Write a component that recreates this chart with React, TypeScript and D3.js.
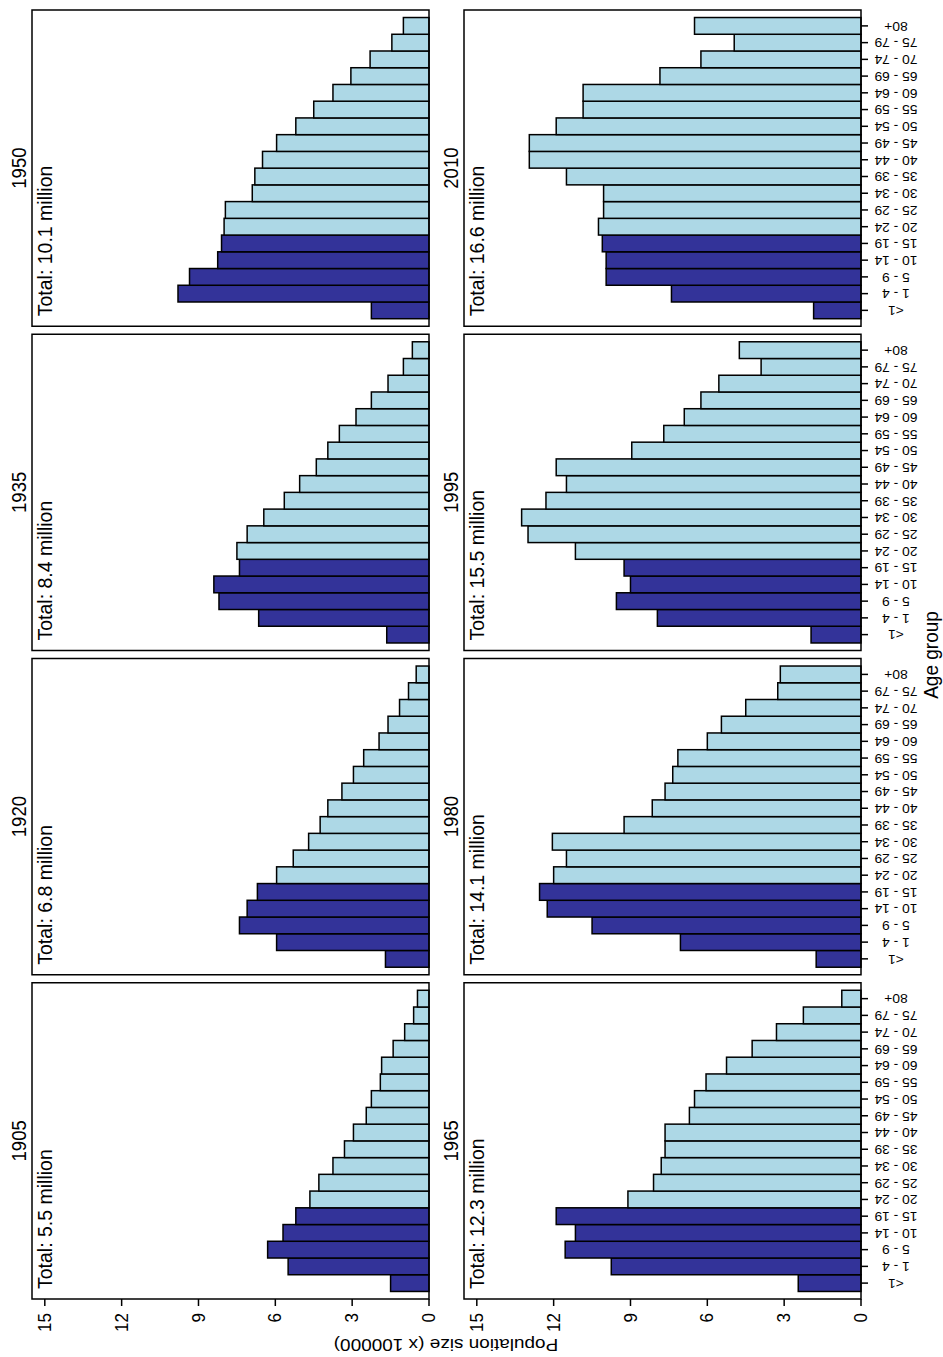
import React from "react";
import * as d3 from "d3";

const ageGroups = ["<1", "1 - 4", "5 - 9", "10 - 14", "15 - 19", "20 - 24", "25 - 29", "30 - 34", "35 - 39", "40 - 44", "45 - 49", "50 - 54", "55 - 59", "60 - 64", "65 - 69", "70 - 74", "75 - 79", "80+"];
const youngGroups = ["<1", "1 - 4", "5 - 9", "10 - 14", "15 - 19"];
const years = [1905, 1920, 1935, 1950, 1965, 1980, 1995, 2010];
const totals = ["5.5", "6.8", "8.4", "10.1", "12.3", "14.1", "15.5", "16.6"];
const valueTicks = [0, 3, 6, 9, 12, 15];

const pop1905 = [1.5, 5.5, 6.3, 5.7, 5.2, 4.65, 4.3, 3.75, 3.3, 2.95, 2.45, 2.25, 1.9, 1.85, 1.4, 0.95, 0.6, 0.45];
const pop1920 = [1.7, 5.95, 7.4, 7.1, 6.7, 5.95, 5.3, 4.7, 4.25, 3.95, 3.4, 2.95, 2.55, 1.95, 1.6, 1.15, 0.8, 0.5];
const pop1935 = [1.65, 6.65, 8.2, 8.4, 7.4, 7.5, 7.1, 6.45, 5.65, 5.05, 4.4, 3.95, 3.5, 2.85, 2.25, 1.6, 1.0, 0.65];
const pop1950 = [2.25, 9.8, 9.35, 8.25, 8.1, 8.0, 7.95, 6.9, 6.8, 6.5, 5.95, 5.2, 4.5, 3.75, 3.05, 2.3, 1.45, 1.0];
const pop1965 = [2.45, 9.75, 11.55, 11.15, 11.9, 9.1, 8.1, 7.8, 7.65, 7.65, 6.7, 6.5, 6.05, 5.25, 4.25, 3.3, 2.25, 0.75];
const pop1980 = [1.75, 7.05, 10.5, 12.25, 12.55, 12.0, 11.5, 12.05, 9.25, 8.15, 7.65, 7.35, 7.15, 6.0, 5.45, 4.5, 3.25, 3.15];
const pop1995 = [1.95, 7.95, 9.55, 9.0, 9.25, 11.15, 13.0, 13.25, 12.3, 11.5, 11.9, 8.95, 7.7, 6.9, 6.25, 5.55, 3.9, 4.75];
const pop2010 = [1.85, 7.4, 9.95, 9.95, 10.1, 10.25, 10.05, 10.05, 11.5, 12.95, 12.95, 11.9, 10.85, 10.85, 7.85, 6.25, 4.95, 6.5];
const series = [pop1905, pop1920, pop1935, pop1950, pop1965, pop1980, pop1995, pop2010];

const DARK = "#333399";
const LIGHT = "#ADD8E6";
const FONT = "'Liberation Sans', Arial, Helvetica, sans-serif";
const K = 1.05; // glyph stretch across the text direction
const KA = 1.15; // stretch for age labels / y title along text

// Original (landscape) figure size; rotated -90deg onto the portrait page
const OW = 1357;
const panelLeft = 58;
const panelW = 316.25;
const panelGap = 8;
const rows = [
  { top: 32, base: 429 },
  { top: 464, base: 861 },
];
const yMax = 15.5;

function Panel({ idx }: { idx: number }) {
  const row = Math.floor(idx / 4);
  const col = idx % 4;
  const x0 = panelLeft + col * (panelW + panelGap);
  const { top, base } = rows[row];
  const x = d3.scaleBand<string>().domain(ageGroups).range([x0, x0 + panelW]).paddingInner(0).paddingOuter(0.45);
  const y = d3.scaleLinear().domain([0, yMax]).range([base, top]);
  const data = series[idx];
  return (
    <g>
      {ageGroups.map((a, i) => (
        <rect
          key={a}
          x={x(a)}
          y={y(data[i])}
          width={x.bandwidth()}
          height={y(0) - y(data[i])}
          fill={youngGroups.includes(a) ? DARK : LIGHT}
          stroke="#000"
          strokeWidth={1.5}
        />
      ))}
      <rect x={x0} y={top} width={panelW} height={base - top} fill="none" stroke="#000" strokeWidth={1.5} />
      <text
        transform={`translate(${x0 + panelW / 2},${top - 6}) scale(1,${K})`}
        textAnchor="middle"
        fontSize={18.5}
        fontFamily={FONT}
      >
        {years[idx]}
      </text>
      <text
        transform={`translate(${x0 + 10},${top + 20}) scale(1,${K})`}
        textAnchor="start"
        fontSize={19.5}
        fontFamily={FONT}
      >
        {`Total: ${totals[idx]} million`}
      </text>
      {col === 0 &&
        valueTicks.map((t) => (
          <g key={t}>
            <line x1={x0} x2={x0 - 7} y1={y(t)} y2={y(t)} stroke="#000" strokeWidth={1.5} />
            <text
              transform={`translate(${x0 - 14},${y(t)}) scale(1,${K})`}
              textAnchor="end"
              dominantBaseline="central"
              fontSize={17}
              fontFamily={FONT}
            >
              {t}
            </text>
          </g>
        ))}
      {row === 1 &&
        ageGroups.map((a) => {
          const cx = (x(a) as number) + x.bandwidth() / 2;
          return (
            <g key={a}>
              <line x1={cx} x2={cx} y1={base} y2={base + 7} stroke="#000" strokeWidth={1.5} />
              <text
                transform={`translate(${cx},${base + 35}) scale(1,${KA}) rotate(-90)`}
                textAnchor="middle"
                dominantBaseline="central"
                fontSize={12}
                fontFamily={FONT}
              >
                {a}
              </text>
            </g>
          );
        })}
    </g>
  );
}

export default function App() {
  return (
    <svg
      width={943}
      height={1357}
      style={{ position: "absolute", left: 0, top: 0, background: "#fff" }}
    >
      <rect x={0} y={0} width={943} height={1357} fill="#fff" />
      <g transform={`translate(0,${OW}) rotate(-90)`}>
        {years.map((yr, i) => (
          <Panel key={yr} idx={i} />
        ))}
        <text
          transform={`translate(12,446) scale(1,${KA}) rotate(-90)`}
          textAnchor="middle"
          dominantBaseline="central"
          fontSize={16.5}
          fontFamily={FONT}
        >
          Population size (x 100000)
        </text>
        <text
          transform={`translate(702,938) scale(1,${K})`}
          textAnchor="middle"
          fontSize={19}
          fontFamily={FONT}
        >
          Age group
        </text>
      </g>
    </svg>
  );
}
